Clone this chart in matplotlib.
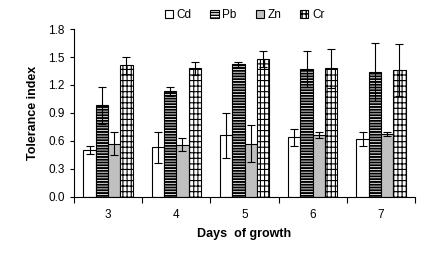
import numpy as np
import matplotlib
matplotlib.use("Agg")
import matplotlib.pyplot as plt

plt.rcParams['font.family'] = ['Liberation Sans', 'DejaVu Sans']

days = ["3", "4", "5", "6", "7"]
metals = ["Cd", "Pb", "Zn", "Cr"]

cd = [0.50, 0.53, 0.66, 0.64, 0.62]
pb = [0.98, 1.13, 1.42, 1.37, 1.34]
zn = [0.57, 0.56, 0.57, 0.66, 0.67]
cr = [1.41, 1.38, 1.48, 1.38, 1.36]

cd_err = [0.04, 0.17, 0.24, 0.09, 0.08]
pb_err = [0.20, 0.05, 0.03, 0.19, 0.31]
zn_err = [0.12, 0.07, 0.20, 0.03, 0.02]
cr_err = [0.09, 0.07, 0.09, 0.21, 0.28]

values = [cd, pb, zn, cr]
errors = [cd_err, pb_err, zn_err, cr_err]
fills = ["white", "white", "#c0c0c0", "white"]
hatches = [None, "------", None, "+++|"]
hatch_lw = [0.8, 1.4, 0.8, 0.8]

fig = plt.figure(figsize=(4.32, 2.62), dpi=100)
ax = fig.add_axes([0.171, 0.249, 0.790, 0.640])

x = np.arange(len(days))
w = 0.18
for i in range(4):
    pos = x + (i - 1.5) * w
    with plt.rc_context({'hatch.linewidth': hatch_lw[i]}):
        ax.bar(pos, values[i], w, color=fills[i], edgecolor="black",
               linewidth=0.8, hatch=hatches[i], label=metals[i])
    ax.errorbar(pos, values[i], yerr=errors[i], fmt="none", ecolor="black",
                elinewidth=0.8, capsize=3, capthick=0.8)

ax.set_xlim(-0.5, len(days) - 0.5)
ax.set_ylim(0, 1.8)
ticks = np.arange(0, 1.81, 0.3)
ax.set_yticks(ticks)
ax.set_yticklabels([f"{v:.1f}" for v in ticks])
ax.set_xticks(x)
ax.set_xticklabels(days)
ax.set_xticks(np.arange(-0.5, len(days)), minor=True)
ax.tick_params(axis="x", which="major", length=0, pad=9, labelsize=8.5)
ax.tick_params(axis="x", which="minor", length=4, width=0.8, direction="out")
ax.tick_params(axis="y", length=3, width=0.8, labelsize=8.5)

for s in ["top", "right"]:
    ax.spines[s].set_visible(False)
for s in ["left", "bottom"]:
    ax.spines[s].set_linewidth(0.8)

ax.set_xlabel("Days  of growth", fontsize=9, fontweight="bold", labelpad=5)
ax.set_ylabel("Tolerance index", fontsize=9, fontweight="bold", labelpad=7)

ax.legend(loc="center", bbox_to_anchor=(0.5, 1.085), ncol=4, frameon=False,
          fontsize=8.5, handlelength=0.7, handleheight=0.7, handletextpad=0.3,
          columnspacing=1.6, borderaxespad=0)

fig.savefig("out.png", dpi=100)
